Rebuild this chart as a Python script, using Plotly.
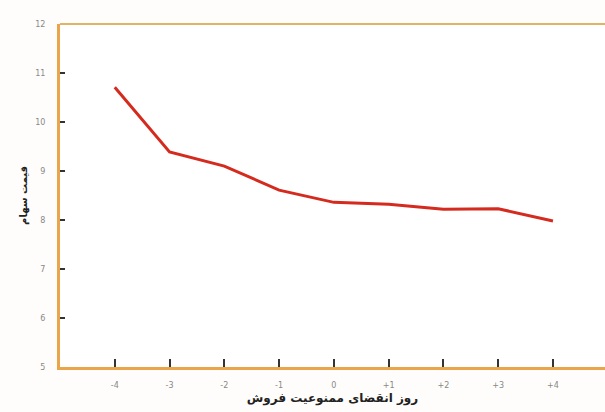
import plotly.graph_objects as go

# روز نسبت به انقضای ممنوعیت فروش
days = [-4, -3, -2, -1, 0, 1, 2, 3, 4]
day_labels = ["-4", "-3", "-2", "-1", "0", "+1", "+2", "+3", "+4"]
# قیمت سهام
price = [10.71, 9.39, 9.10, 8.61, 8.36, 8.32, 8.22, 8.23, 7.98]
y_ticks = [5, 6, 7, 8, 9, 10, 11, 12]

axis_col = "#eaa54a"

fig = go.Figure()
fig.add_trace(go.Scatter(
    x=days,
    y=price,
    mode="lines",
    line=dict(color="#d52b1e", width=3),
    showlegend=False,
))

fig.update_layout(
    width=605,
    height=412,
    margin=dict(l=60, r=0, t=24, b=45),
    paper_bgcolor="#fefdfb",
    plot_bgcolor="white",
    font=dict(family="DejaVu Sans", color="#777"),
    shapes=[dict(type="line", xref="paper", yref="paper", x0=0, x1=1, y0=1, y1=1,
                 line=dict(color="#e2b266", width=2))],
)

fig.update_xaxes(
    range=[-5.0, 4.95],
    tickvals=days,
    ticktext=day_labels,
    ticks="inside",
    ticklen=8,
    tickwidth=2,
    tickcolor="#333",
    tickfont=dict(size=8, color="#888"),
    ticklabelstandoff=8,
    showgrid=False,
    zeroline=False,
    showline=True,
    linecolor=axis_col,
    linewidth=3,
    title=dict(text="<b>روز انقضای ممنوعیت فروش</b>",
               font=dict(size=12, color="#222"), standoff=6),
)

fig.update_yaxes(
    range=[5, 12],
    tickvals=y_ticks,
    ticks="inside",
    ticklen=5,
    tickwidth=2,
    tickcolor="#333",
    tickfont=dict(size=8, color="#888"),
    ticklabelstandoff=10,
    showgrid=False,
    zeroline=False,
    showline=True,
    linecolor=axis_col,
    linewidth=3,
    title=dict(text="<b>قیمت سهام</b>", font=dict(size=10, color="#222"), standoff=6),
)

# page body has an 8px default margin; drop it so the figure sits at 0,0
fig.write_html("out.html",
               config=dict(displayModeBar=False),
               post_script="document.body.style.margin='0';document.body.style.overflow='hidden';")
